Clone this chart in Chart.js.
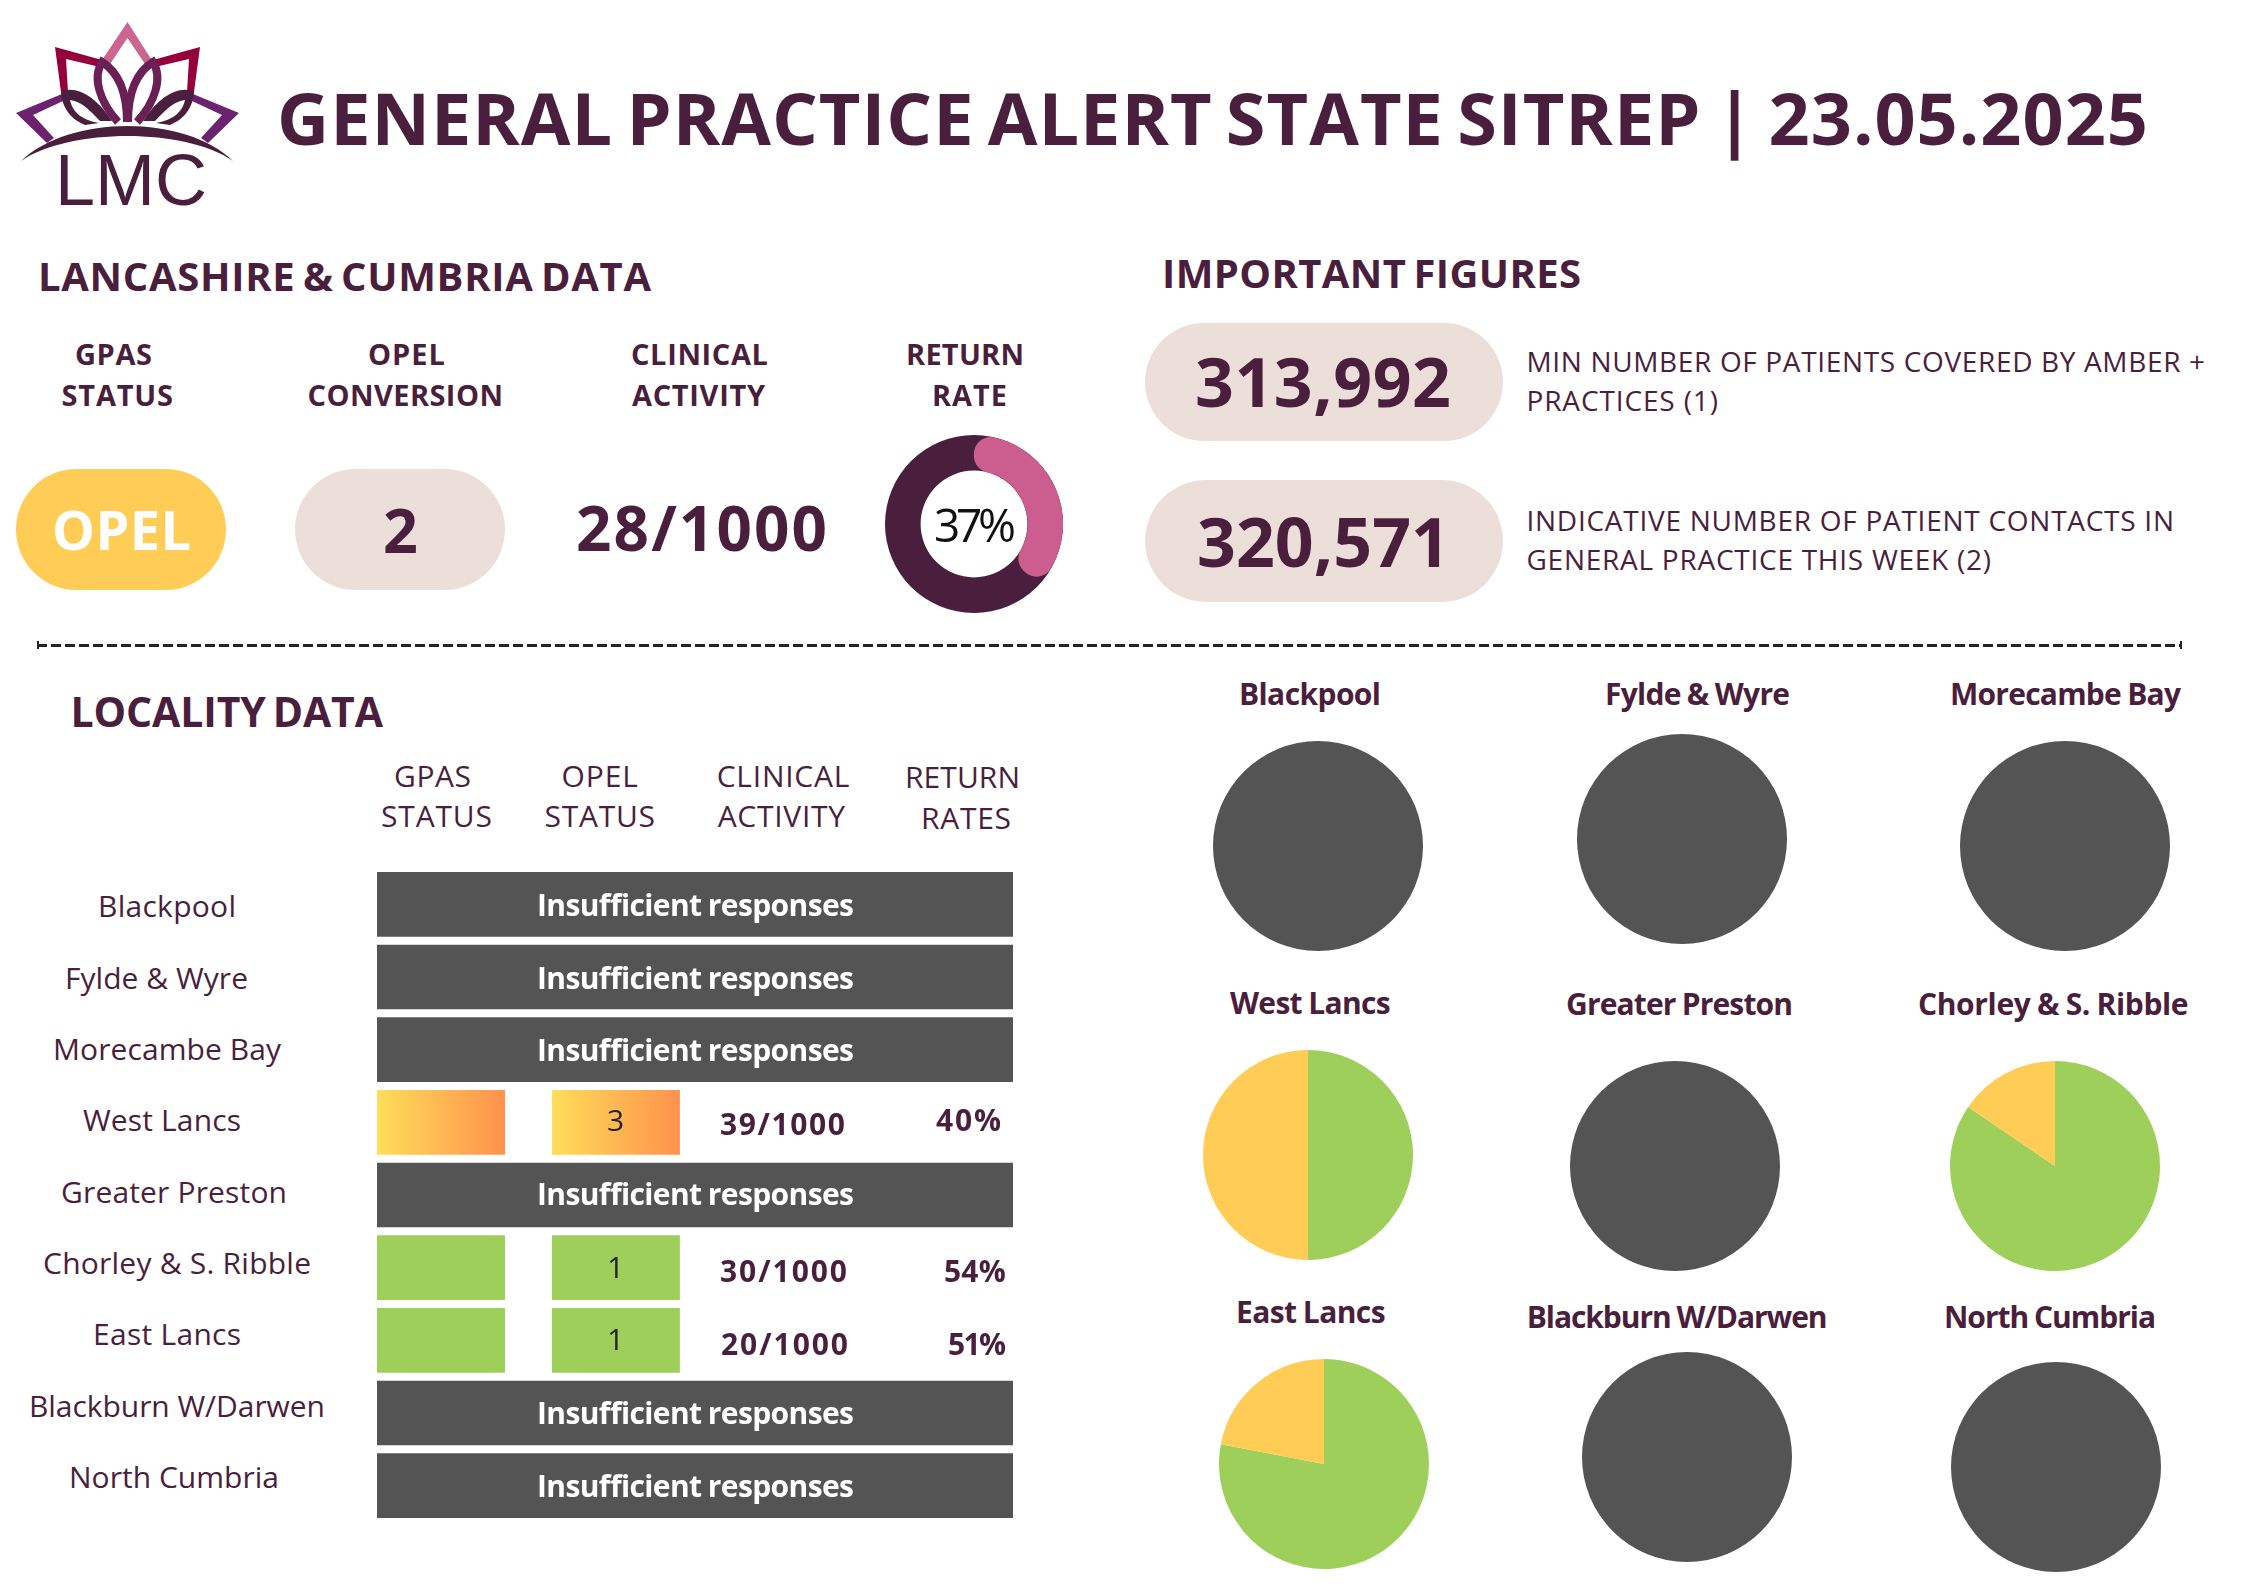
<!DOCTYPE html>
<html><head><meta charset="utf-8">
<script src="https://cdn.jsdelivr.net/npm/chart.js@4"></script>
<style>
html,body{margin:0;padding:0;background:#fff;}
#page{position:relative;width:2245px;height:1587px;overflow:hidden;background:#fff;}
canvas{position:absolute;}
.t{position:absolute;white-space:pre;color:#4A1F3D;font-family:'Open Sans',sans-serif;}
.pill{position:absolute;}
</style></head><body><div id="page">
<svg style="position:absolute;left:0;top:0" width="260" height="215" viewBox="0 0 260 215">
<defs><g id="half">
<path d="M62 94 L16 113 L47 143 L54 138 L33 115 L63 101 Z" fill="#6B2370"/>
<path d="M55 47 L102 60 L100 67 L66 59 L68 92 L61 92 Z" fill="#96003C"/>
<path d="M61 92 C75 85 95 95 112 121 L100 121 C 88 108 80 101 70 100 C 72 110 80 120 99 123 L 85 125 C 68 118 62 105 61 92 Z" fill="#4A1F3D"/>
<path d="M118 122 C100 102 92 78 102 62 C118 72 127 92 127 122" fill="none" stroke="#6A1F55" stroke-width="8"/>
</g></defs>
<path d="M127.5 22 L153 62 L145 64 L127.5 38 L110 64 L102 60 Z" fill="#CB6690"/>
<use href="#half"/>
<use href="#half" transform="translate(255,0) scale(-1,1)"/>
<path d="M21 161 C70 114.3 185 114.3 233 161 C185 127.7 70 127.7 21 161 Z" fill="#4A1F3D"/>
</svg>
<div id="layer"></div>
</div>
<script>
// ---------- data ----------
const title = 'GENERAL PRACTICE ALERT STATE SITREP | 23.05.2025';
const localities = ['Blackpool','Fylde & Wyre','Morecambe Bay','West Lancs','Greater Preston','Chorley & S. Ribble','East Lancs','Blackburn W/Darwen','North Cumbria'];
const gpasStatus = [null,null,null,'amber-red',null,'green','green',null,null];
const opelStatus = [null,null,null,3,null,1,1,null,null];
const clinicalActivity = [null,null,null,'39/1000',null,'30/1000','20/1000',null,null];
const returnRates = [null,null,null,'40%',null,'54%','51%',null,null];
const pieGreen = [0,0,0,50,0,84.5,78,0,0];
const pieAmber = [0,0,0,50,0,15.5,22,0,0];
const pieNoData = [100,100,100,0,100,0,0,100,100];
const returnRateOverall = [37,63];

// ---------- colours ----------
const INK='#4A1F3D', GREY='#545454', GREEN='#9FCF5B', AMBER='#FFCC55', BEIGE='#ECDFDA', PINK='#CB5E8F';
const FONT="'Open Sans', sans-serif";

// ---------- helpers ----------
const layer=document.getElementById('layer');
const page=document.getElementById('page');
const mc=document.createElement('canvas').getContext('2d');
// place text: x0..x1 is the span, cy the cap-height centre
function T(str,x0,x1,cy,size,weight,color,family){
  const fam=family||FONT;
  const font=`${weight||400} ${size}px ${fam}`;
  mc.font=font;
  const m=mc.measureText(str);
  const spaces=(str.match(/ /g)||[]).length;
  const ws=(weight||400)>=600?(size>=35?-0.09:-0.03)*size:0;
  const ls=(x1-x0-m.width-ws*spaces)/Math.max(1,str.length-1);
  const A=m.fontBoundingBoxAscent,D=m.fontBoundingBoxDescent;
  const el=document.createElement('div');
  el.className='t';el.textContent=str;
  el.style.font=font;el.style.lineHeight=(A+D)+'px';
  el.style.letterSpacing=ls.toFixed(3)+'px';
  el.style.wordSpacing=ws.toFixed(2)+'px';
  el.style.left=x0+'px';
  el.style.top=(cy+size*0.357-A)+'px';
  if(color)el.style.color=color;
  layer.appendChild(el);
}
function pill(x0,y0,x1,y1,color){
  const d=document.createElement('div');d.className='pill';
  const h=y1-y0;
  d.style.cssText=`left:${x0}px;top:${y0}px;width:${x1-x0}px;height:${h}px;background:${color};border-radius:${h/2}px`;
  page.insertBefore(d,layer);
}
function mkCanvas(l,t,w,h){
  const c=document.createElement('canvas');
  c.width=w;c.height=h;c.style.left=l+'px';c.style.top=t+'px';c.style.width=w+'px';c.style.height=h+'px';
  page.insertBefore(c,layer);return c;
}
const base={responsive:false,animation:false,devicePixelRatio:1,
  plugins:{legend:{display:false},tooltip:{enabled:false}},layout:{padding:0}};
Chart.defaults.font.family=FONT;

// ---------- pills ----------
pill(16,469,226,590,AMBER);
pill(295,469,505,590,BEIGE);
pill(1145,323,1503,441,BEIGE);
pill(1145,480,1503,602,BEIGE);

// ---------- divider ----------
const dv=document.createElement('div');
dv.style.cssText='position:absolute;left:37px;top:644px;width:2144px;height:3px;background:repeating-linear-gradient(90deg,#222 0 10px,transparent 10px 14px)';
page.insertBefore(dv,layer);
[37,2180].forEach(x=>{const e=document.createElement('div');e.style.cssText=`position:absolute;left:${x}px;top:641px;width:2px;height:8px;background:#222`;page.insertBefore(e,layer);});

// ---------- overall doughnut (track + rounded segment) ----------
const dL=885,dT=435,dS=178;
new Chart(mkCanvas(dL,dT,dS,dS),{type:'doughnut',data:{labels:['Track'],datasets:[{data:[100],backgroundColor:[INK],borderWidth:0}]},options:{...base,cutout:'60%'}});
new Chart(mkCanvas(dL,dT,dS,dS),{type:'doughnut',data:{labels:['Returned','Not returned'],datasets:[{data:returnRateOverall,backgroundColor:[PINK,'rgba(0,0,0,0)'],borderWidth:0,borderRadius:17}]},options:{...base,cutout:'60%'}});

// ---------- locality table as floating bars ----------
const rowFull=gpasStatus.map(s=>s?null:[0,4]);
const rowGpas=gpasStatus.map(s=>s?[0,0.805]:null);
const rowOpel=gpasStatus.map(s=>s?[1.1,1.905]:null);
function cellFill(ctx,range){
  const i=ctx.dataIndex,s=gpasStatus[i],ch=ctx.chart;
  if(s==='green')return GREEN;
  if(!ch.chartArea)return AMBER;
  const xs=ch.scales.x;
  const g=ch.ctx.createLinearGradient(xs.getPixelForValue(range[0]),0,xs.getPixelForValue(range[1]),0);
  g.addColorStop(0,'#FFDE59');g.addColorStop(1,'#FF914D');
  return g;
}
new Chart(mkCanvas(377,868,636,654),{type:'bar',data:{labels:localities,datasets:[
  {label:'Insufficient responses',data:rowFull,backgroundColor:GREY},
  {label:'GPAS status',data:rowGpas,backgroundColor:c=>cellFill(c,[0,0.805])},
  {label:'OPEL status',data:rowOpel,backgroundColor:c=>cellFill(c,[1.1,1.905])}
]},options:{...base,indexAxis:'y',
  datasets:{bar:{grouped:false,barPercentage:0.889,categoryPercentage:1,borderWidth:0}},
  scales:{x:{display:false,min:0,max:4},y:{display:false}}}});

// ---------- locality pies ----------
const pieCentres=[[1317.5,846],[1681.5,839],[2064.5,846],[1307.5,1155],[1675,1166],[2054.5,1166],[1324,1464],[1686.5,1457],[2055.5,1467]];
const R=105;
localities.forEach((name,i)=>{
  const [cx,cy]=pieCentres[i];
  new Chart(mkCanvas(cx-R,cy-R,2*R,2*R),{type:'pie',data:{labels:['Green','Amber','No data'],datasets:[{
    data:[pieGreen[i],pieAmber[i],pieNoData[i]],backgroundColor:[GREEN,AMBER,GREY],borderWidth:0}]},options:base});
});

// ---------- text ----------
T(title,277,2148,119,72,700);
T('LMC',55,207,179,72,400,INK,"'Liberation Sans', sans-serif");
T('LANCASHIRE & CUMBRIA DATA',38,651,277,40,700);
T('IMPORTANT FIGURES',1162,1581,274,40,700);
T('GPAS',75,152,354.5,29,700);T('STATUS',61.5,173,395.5,29,700);
T('OPEL',368,445,354.5,29,700);T('CONVERSION',307.5,503,395.5,29,700);
T('CLINICAL',631,768,354.5,29,700);T('ACTIVITY',632,765,395.5,29,700);
T('RETURN',906,1024,354.5,29,700);T('RATE',932,1007,395.5,29,700);
T('OPEL',52,191,531,54,700,'#FFFFFF');
T('2',383,416,531,61,700);
T('28/1000',576,827,529,62,700);
T('37%',934,1016,526,46,400,'#111111');
T('313,992',1195,1451,383,68,700);
T('320,571',1197,1450,542.5,68,700);
T('MIN NUMBER OF PATIENTS COVERED BY AMBER +',1526.5,2205,362,28,400);
T('PRACTICES (1)',1526.5,1718,401,28,400);
T('INDICATIVE NUMBER OF PATIENT CONTACTS IN',1526.5,2174,521,28,400);
T('GENERAL PRACTICE THIS WEEK (2)',1526.5,1991,560,28,400);
T('LOCALITY DATA',70.5,383,712,41,700);
T('GPAS',394,471,776,30,400);T('STATUS',381,492,816,30,400);
T('OPEL',561.4,638,776,30,400);T('STATUS',544.5,655,816,30,400);
T('CLINICAL',716.7,849.4,776,30,400);T('ACTIVITY',717.7,845,816,30,400);
T('RETURN',905,1020,777,30,400);T('RATES',921,1011,818,30,400);

const rowLabelSpan=[[98,236],[65,248],[53,281],[83,241],[61,287],[43,311],[93,241],[29,325],[69,279]];
const rowLabelY=[906,978,1049,1120,1192,1263,1334,1406,1477];
localities.forEach((n,i)=>T(n,rowLabelSpan[i][0],rowLabelSpan[i][1],rowLabelY[i],30,400));

const fullY=[905,978,1050.6,null,1194,null,null,1413.6,1486];
const opelY=[0,0,0,1120,0,1267,1339,0,0];
const clinicalSpan=[0,0,0,[720,845,1124],0,[720,847,1271],[721,848,1344],0,0];
const rateSpan=[0,0,0,[936,1001,1120],0,[944,1005.7,1271],[948,1006,1344],0,0];
localities.forEach((n,i)=>{
  if(!gpasStatus[i]){T('Insufficient responses',537,854,fullY[i],30,700,'#FFFFFF');return;}
  const o=String(opelStatus[i]);
  T(o,607,622,opelY[i],30,400,'#222222');
  T(clinicalActivity[i],clinicalSpan[i][0],clinicalSpan[i][1],clinicalSpan[i][2],30,700);
  T(returnRates[i],rateSpan[i][0],rateSpan[i][1],rateSpan[i][2],30,700);
});
const pieTitleSpan=[[1239,1381,694],[1605,1790,694],[1950,2181,694],[1230,1390.6,1003],[1566,1793,1004],[1918,2188.6,1004],[1236,1385.6,1312],[1526.7,1827.6,1317],[1944,2156,1317]];
localities.forEach((n,i)=>T(n,pieTitleSpan[i][0],pieTitleSpan[i][1],pieTitleSpan[i][2],30,700));
</script></body></html>
